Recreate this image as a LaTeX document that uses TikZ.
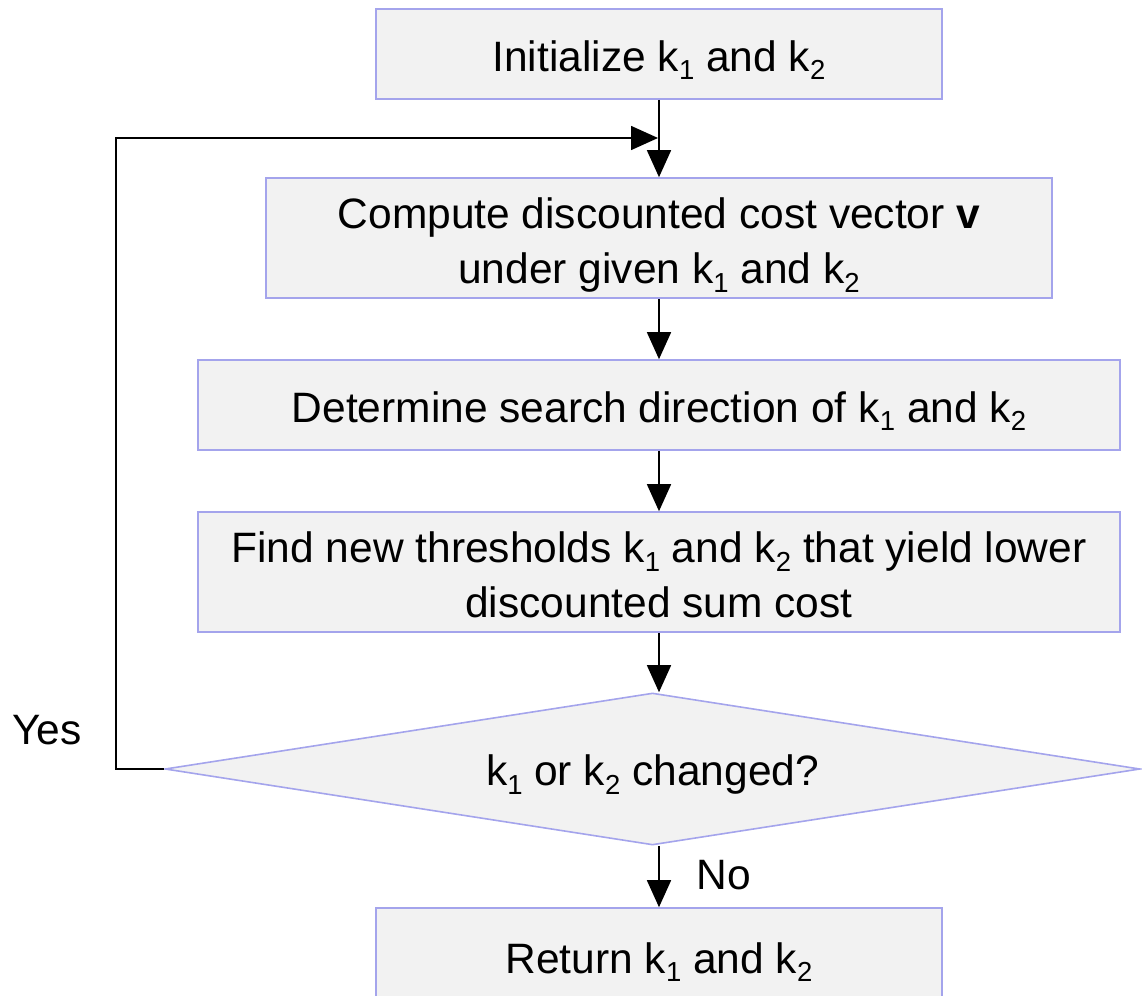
\documentclass[tikz,border=0pt]{standalone}
\usepackage{fontspec}
\setmainfont{Liberation Sans}
\usetikzlibrary{arrows.meta,shapes.geometric}
\newcommand{\kss}[1]{\raisebox{-0.2em}[0pt][0pt]{\fontsize{27.5}{30}\selectfont #1}}
\newcommand{\lowered}[2]{\raisebox{-#1}[\height][\depth]{#2}}
\newcommand{\twolines}[2]{\lowered{7pt}{\begin{tabular}{@{}c@{}}#1\\#2\end{tabular}}}
\definecolor{boxfill}{HTML}{F2F2F2}
\definecolor{boxline}{HTML}{A4A4EC}
\begin{document}
\begin{tikzpicture}[x=1pt,y=-1pt,
  every node/.style={font=\fontsize{42.5}{55}\selectfont},
  stepbox/.style={draw=boxline,fill=boxfill,line width=1.6pt,inner sep=0pt,align=center},
  decision/.style={diamond,aspect=6.414,draw=boxline,fill=boxfill,line width=1.6pt,inner sep=0pt,align=center},
  flow/.style={draw=black,line width=1.6pt,-{Triangle[length=27pt,width=24pt]}},
  plain/.style={font=\fontsize{42.5}{55}\selectfont}]
\useasboundingbox (0,0) rectangle (1142,995);
\node[stepbox,minimum width=566pt,minimum height=90pt] (init) at (659,54) {\lowered{2pt}{Initialize k\kss{1} and k\kss{2}}};
\node[stepbox,minimum width=786pt,minimum height=120pt] (comp) at (659,238) {\twolines{Compute discounted cost vector \textbf{v}}{under given k\kss{1} and k\kss{2}}};
\node[stepbox,minimum width=922pt,minimum height=90pt] (dir) at (659,405) {\lowered{2pt}{Determine search direction of k\kss{1} and k\kss{2}}};
\node[stepbox,minimum width=922pt,minimum height=120pt] (find) at (659,572) {\twolines{Find new thresholds k\kss{1} and k\kss{2} that yield lower}{discounted sum cost}};
\node[decision,minimum width=975pt,minimum height=152pt] (dec) at (652.5,769) {\lowered{6pt}{k\kss{1} or k\kss{2} changed?}};
\node[stepbox,minimum width=566pt,minimum height=100pt] (ret) at (659,958) {Return k\kss{1} and k\kss{2}};
\node[plain] (yes) at (47,730) {Yes};
\node[plain] (no) at (724,875) {No};
\coordinate (cornerA) at (116,769);
\coordinate (cornerB) at (116,138);
\coordinate (join) at (658,138);
\draw[flow] (init.south) -- (comp.north);
\draw[flow] (comp.south) -- (dir.north);
\draw[flow] (dir.south) -- (find.north);
\draw[flow] (find.south) -- (dec.north -| find.south);
\draw[flow] (dec.south -| ret.north) -- (ret.north);
\draw[flow] (dec.west) -- (cornerA) -- (cornerB) -- (join);
\end{tikzpicture}
\end{document}
